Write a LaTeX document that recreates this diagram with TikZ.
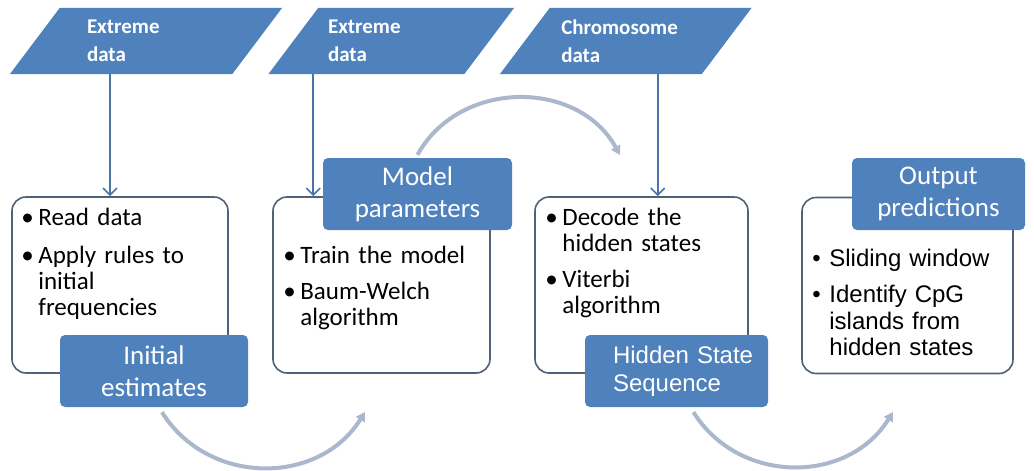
\documentclass[tikz,border=0pt]{standalone}
\usepackage{fontspec}
\setmainfont{Carlito}
\newfontfamily\arialfont{Liberation Sans}
\usetikzlibrary{arrows.meta,positioning,backgrounds}

\definecolor{shapeblue}{RGB}{79,129,189}
\definecolor{frameblue}{RGB}{80,98,120}
\definecolor{linkblue}{RGB}{74,116,166}
\definecolor{backblue}{RGB}{170,183,205}

\newcommand{\bitem}[1]{\makebox[17pt][l]{\textbullet}\parbox[t]{183pt}{\strut#1\strut}}

\tikzstyle{data state}=[
    inner ysep = 0pt,
    minimum height = 66pt,
    align = left,
    text = white,
    font = \bfseries\fontsize{21}{28}\selectfont
]
\tikzstyle{stage box}=[
    draw = frameblue,
    line width = 1.6pt,
    fill = white,
    rounded corners = 14pt,
    minimum height = 176pt
]
\tikzstyle{title box}=[
    fill = shapeblue,
    rounded corners = 5pt,
    minimum height = 72pt,
    text = white,
    align = center,
    font = \fontsize{27}{32}\selectfont
]

\begin{document}
\begin{tikzpicture}[x=1pt, y=-1pt, node distance=10pt,
    link/.style = {draw=linkblue, line width=1.6pt, -{Straight Barb[length=7pt,width=14pt]}},
    back arrow/.style = {draw=backblue, line width=4pt, -{Triangle[length=9pt,width=10pt]}},
    items/.style = {inner sep=0pt, text width=200pt, align=left, font=\fontsize{25}{26}\selectfont,
        execute at begin node=\setlength{\parskip}{10pt}}]
        \useasboundingbox (0,0) rectangle (1034,471);

        \node[data state, inner xsep=52pt, text width=118pt] (d1) at (146,41) {Extreme\\data};
        \node[data state, inner xsep=34.5pt, text width=126.5pt] (d2) at (391.25,41) {Extreme\\data};
        \node[data state, inner xsep=36.25pt, text width=129pt] (d3) at (625.75,41) {Chromosome\\data};

        \node[stage box, minimum width=216pt] (box1) at (120,285) {};
        \node[stage box, minimum width=217pt] (box2) at (381.5,285) {};
        \node[stage box, minimum width=213pt] (box3) at (641.5,285) {};
        \node[stage box, minimum width=211pt] (box4) at (907.5,285.5) {};

        \node[title box, minimum width=188pt] (lab1) at (154,371) {Initial\\estimates};
        \node[title box, minimum width=189pt] (lab2) at (417.5,194) {Model\\parameters};
        \node[title box, align=left, text width=127pt, inner xsep=28pt,
            font=\arialfont\fontsize{24}{28}\selectfont] (lab3) at (676.5,371) {\mbox{Hidden State}\\Sequence};
        \node[title box, minimum width=173pt] (lab4) at (938.5,194) {Output\\predictions};

        \node[items, below right=11pt and 10pt of box1.north west,
            execute at begin node=\setlength{\parskip}{12pt}] (t1)
            {\bitem{Read data}\par\bitem{Apply rules to\\initial\\frequencies}};
        \node[items, below right=49pt and 11pt of box2.north west] (t2)
            {\bitem{Train the model}\par\bitem{Baum-Welch\\algorithm}};
        \node[items, below right=11pt and 11pt of box3.north west, 
            execute at begin node=\setlength{\parskip}{9pt}] (t3)
            {\bitem{Decode the\\hidden states}\par\bitem{Viterbi\\algorithm}};
        \node[items, font=\arialfont\fontsize{24}{26.5}\selectfont,
            below right=51pt and 11pt of box4.north west] (t4)
            {\bitem{Sliding window}\par\bitem{Identify CpG\\islands from\\hidden states}};

        \coordinate (e1) at (365,412);
        \coordinate (e2) at (620,155);
        \coordinate (e3) at (893,412);

        \draw[link] ([xshift=-36pt]d1.south) -- ([xshift=-36pt]d1.south |- box1.north);
        \draw[link] ([xshift=-78pt]d2.south) -- ([xshift=-78pt]d2.south |- box2.north);
        \draw[link] ([xshift=32pt]d3.south) -- ([xshift=32pt]d3.south |- box3.north);

        \draw[back arrow] ([xshift=8pt,yshift=-5pt]lab1.south) to[bend right=58, looseness=1.1] (e1);
        \draw[back arrow] ([yshift=3pt]lab2.north) to[bend left=61, looseness=1.1] (e2);
        \draw[back arrow] ([xshift=17pt,yshift=-5pt]lab3.south) to[bend right=58, looseness=1.1] (e3);

        \begin{scope}[on background layer]
            \fill[white] (0,0) rectangle (1034,471);
            \foreach \d in {d1,d2,d3}
                \fill[shapeblue] ([xshift=-25pt]\d.south west) -- ([xshift=25pt]\d.north west)
                    -- ([xshift=25pt]\d.north east) -- ([xshift=-25pt]\d.south east) -- cycle;
        \end{scope}

    \end{tikzpicture}
\end{document}
